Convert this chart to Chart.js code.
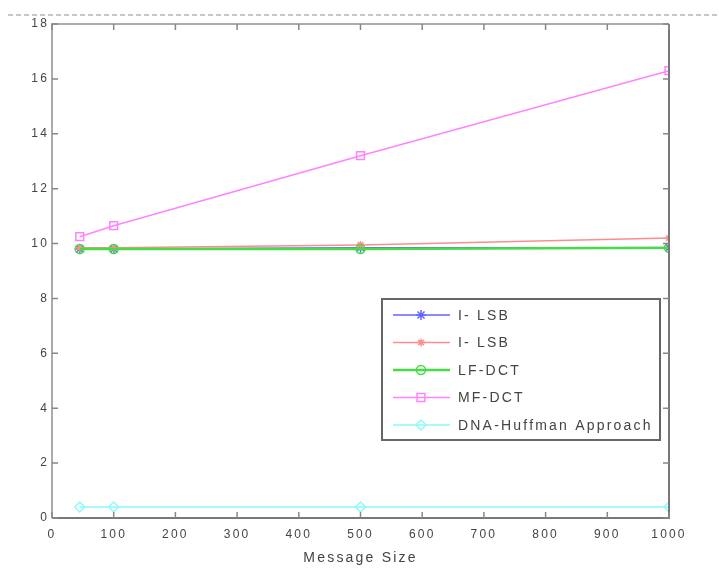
<!DOCTYPE html>
<html>
<head>
<meta charset="utf-8">
<script src="https://cdn.jsdelivr.net/npm/chart.js@4.4.1/dist/chart.umd.min.js"></script>
<style>
  html, body { margin: 0; padding: 0; background: #fff; }
  #wrap { width: 719px; height: 571px; position: relative; }
</style>
</head>
<body>
<div id="wrap"><canvas id="chart" width="719" height="571"></canvas></div>
<script>
// message sizes on the x axis
const messageSizes = [45, 100, 500, 1000];

// series values
const iLsbBlue = [9.8, 9.8, 9.85, 9.85];
const iLsbRed = [9.85, 9.85, 9.95, 10.2];
const lfDct = [9.8, 9.8, 9.8, 9.85];
const mfDct = [10.25, 10.65, 13.2, 16.3];
const dnaHuffman = [0.4, 0.4, 0.4, 0.4];

const seriesNames = ['I- LSB', 'I- LSB', 'LF-DCT', 'MF-DCT', 'DNA-Huffman Approach'];

const xTicks = [0, 100, 200, 300, 400, 500, 600, 700, 800, 900, 1000];
const yTicks = [0, 2, 4, 6, 8, 10, 12, 14, 16, 18];

const FONT = '"Liberation Sans", Arial, sans-serif';

const toPoints = vals => vals.map((v, i) => ({ x: messageSizes[i], y: v }));

function series(label, vals, color, style, radius, width, order) {
    return {
        label: label,
        data: toPoints(vals),
        borderColor: color,
        pointBorderColor: color,
        pointBackgroundColor: 'rgba(0,0,0,0)',
        pointStyle: style,
        pointRadius: radius,
        pointBorderWidth: 1.5,
        borderWidth: width,
        tension: 0,
        order: order
    };
}

const datasets = [
    series(seriesNames[0], iLsbBlue, 'rgb(100, 100, 255)', 'star', 5, 1.5, 5),
    series(seriesNames[1], iLsbRed, 'rgb(255, 140, 140)', 'star', 4, 1.5, 4),
    series(seriesNames[2], lfDct, 'rgb(70, 220, 70)', 'circle', 4.5, 2.5, 3),
    series(seriesNames[3], mfDct, 'rgb(255, 130, 255)', 'rect', 5.5, 1.5, 2),
    series(seriesNames[4], dnaHuffman, 'rgb(140, 250, 250)', 'rectRot', 5, 1.5, 1)
];

// wider letter spacing for all text
const spacing = {
    id: 'spacing',
    beforeDraw(chart) { chart.ctx.letterSpacing = '2.2px'; }
};

// box around the plot, inward ticks, dashed figure edge
const axesBox = {
    id: 'axesBox',
    afterDraw(chart) {
        const ctx = chart.ctx;
        const a = chart.chartArea;
        const xs = chart.scales.x;
        const ys = chart.scales.y;
        ctx.save();

        ctx.strokeStyle = '#c8c8c8';
        ctx.lineWidth = 2;
        ctx.setLineDash([5, 3]);
        ctx.beginPath();
        ctx.moveTo(8, 15);
        ctx.lineTo(719, 15);
        ctx.stroke();
        ctx.setLineDash([]);

        ctx.lineWidth = 2;
        ctx.strokeStyle = '#ababab';
        ctx.beginPath();
        ctx.moveTo(a.left, a.bottom); ctx.lineTo(a.left, a.top); ctx.lineTo(a.right, a.top);
        ctx.stroke();
        ctx.strokeStyle = '#787878';
        ctx.beginPath();
        ctx.moveTo(a.left, a.bottom); ctx.lineTo(a.right, a.bottom); ctx.lineTo(a.right, a.top);
        ctx.stroke();

        ctx.strokeStyle = '#888';
        ctx.lineWidth = 1.5;
        ctx.beginPath();
        xTicks.forEach(t => {
            const px = xs.getPixelForValue(t);
            ctx.moveTo(px, a.bottom); ctx.lineTo(px, a.bottom - 6);
            ctx.moveTo(px, a.top); ctx.lineTo(px, a.top + 6);
        });
        yTicks.forEach(t => {
            const py = ys.getPixelForValue(t);
            ctx.moveTo(a.left, py); ctx.lineTo(a.left + 6, py);
            ctx.moveTo(a.right, py); ctx.lineTo(a.right - 6, py);
        });
        ctx.stroke();
        ctx.restore();
    }
};

// legend box drawn inside the plot area
const insideLegend = {
    id: 'insideLegend',
    afterDraw(chart) {
        const ctx = chart.ctx;
        const bx = 382, by = 299, bw = 278, bh = 141;
        ctx.save();
        ctx.fillStyle = '#fff';
        ctx.fillRect(bx, by, bw, bh);
        ctx.strokeStyle = '#666';
        ctx.lineWidth = 2;
        ctx.strokeRect(bx, by, bw, bh);

        ctx.font = '14px ' + FONT;
        ctx.letterSpacing = '2.2px';
        ctx.textBaseline = 'middle';
        ctx.textAlign = 'left';
        chart.data.datasets.forEach((ds, i) => {
            const y = by + 16 + i * 27.5;
            ctx.strokeStyle = ds.borderColor;
            ctx.lineWidth = ds.borderWidth;
            ctx.beginPath();
            ctx.moveTo(bx + 11, y);
            ctx.lineTo(bx + 68, y);
            ctx.stroke();
            ctx.lineWidth = ds.pointBorderWidth;
            ctx.fillStyle = 'rgba(0,0,0,0)';
            Chart.helpers.drawPoint(ctx, {
                pointStyle: ds.pointStyle,
                radius: ds.pointRadius,
                rotation: 0,
                borderWidth: ds.pointBorderWidth
            }, bx + 39, y);
            ctx.fillStyle = '#444';
            ctx.fillText(ds.label, bx + 76, y + 1);
        });
        ctx.restore();
    }
};

new Chart(document.getElementById('chart'), {
    type: 'line',
    data: { datasets: datasets },
    options: {
        responsive: false,
        animation: false,
        layout: { padding: { left: 0, right: 50, top: 24, bottom: 0 } },
        plugins: {
            legend: { display: false },
            tooltip: { enabled: false }
        },
        scales: {
            x: {
                type: 'linear',
                min: 0,
                max: 1000,
                afterBuildTicks: s => { s.ticks = xTicks.map(v => ({ value: v })); },
                afterFit: s => { s.height = 53; },
                grid: { display: false, drawTicks: false },
                border: { display: false },
                ticks: {
                    color: '#444',
                    padding: 9,
                    maxRotation: 0,
                    callback: v => String(v),
                    font: { family: FONT, size: 12 }
                },
                title: {
                    display: true,
                    text: 'Message Size',
                    color: '#444',
                    padding: { top: 6 },
                    font: { family: FONT, size: 14 }
                }
            },
            y: {
                min: 0,
                max: 18,
                afterBuildTicks: s => { s.ticks = yTicks.map(v => ({ value: v })); },
                afterFit: s => { s.width = 52; },
                grid: { display: false, drawTicks: false },
                border: { display: false },
                ticks: {
                    color: '#444',
                    padding: 3,
                    font: { family: FONT, size: 12 }
                }
            }
        }
    },
    plugins: [spacing, axesBox, insideLegend]
});
</script>
</body>
</html>
